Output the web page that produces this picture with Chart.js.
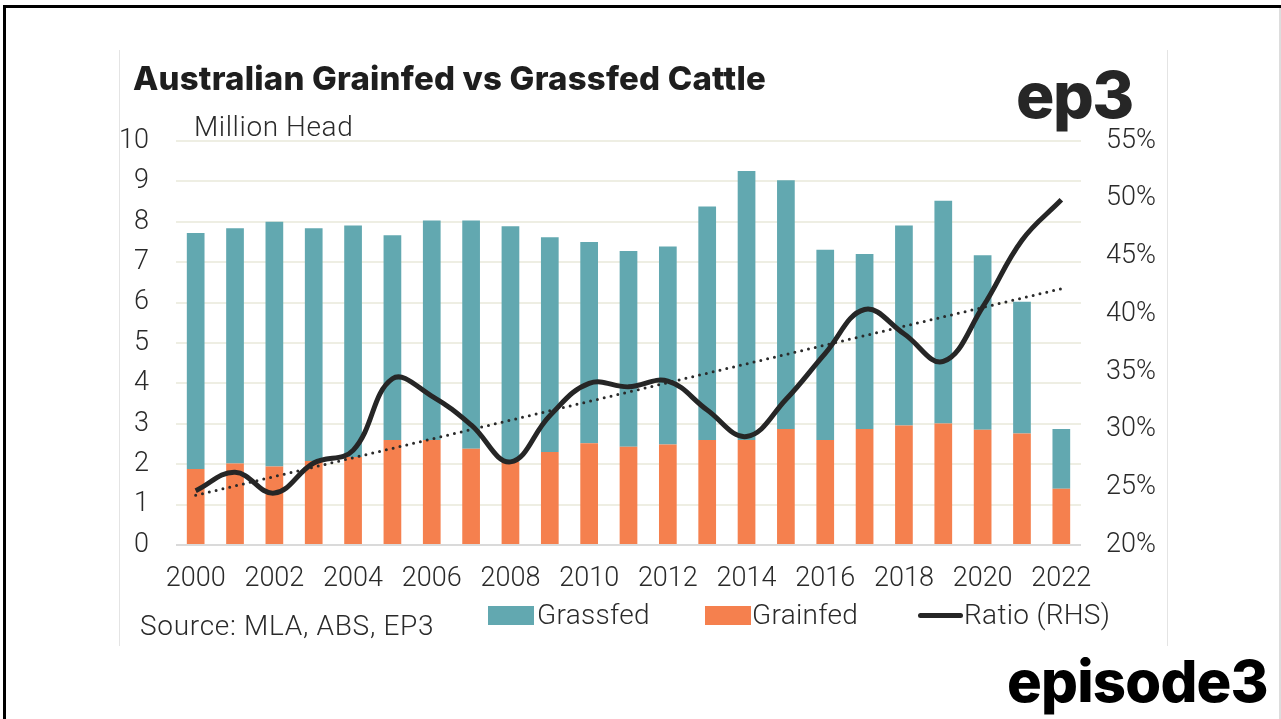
<!DOCTYPE html>
<html>
<head>
<meta charset="utf-8">
<script src="https://cdn.jsdelivr.net/npm/chart.js@4"></script>
<style>
  body { margin: 0; background: #fff; font-family: Roboto, sans-serif; }
  #wrap { position: relative; width: 1281px; height: 719px; overflow: hidden; }
  #chart { position: absolute; left: 0; top: 0; }
  .txt { position: absolute; white-space: nowrap; color: #2a2a2a; }
  .frameTop { position: absolute; left: 3px; top: 5px; width: 1278px; height: 3px; background: #000; }
  .frameLeft { position: absolute; left: 3px; top: 5px; width: 3px; height: 714px; background: #000; }
  .frameRight { position: absolute; left: 1279px; top: 8px; width: 2px; height: 711px; background: #ddd; }
  .imgEdge { position: absolute; width: 1px; background: #e4e4e4; }
  .sw { position: absolute; }
</style>
</head>
<body>
<div id="wrap">
  <canvas id="chart" width="1281" height="719"></canvas>
  <div class="frameTop"></div>
  <div class="frameLeft"></div>
  <div class="frameRight"></div>
  <div class="imgEdge" style="left:119px; top:50px; height:596px;"></div>
  <div class="imgEdge" style="left:1167px; top:50px; height:596px;"></div>

  <div class="txt" id="title" style="left:133px; top:58px; font-family: Inter, sans-serif; font-weight:800; font-size:33px; color:#1e1e1e; letter-spacing:0.2px;">Australian Grainfed vs Grassfed Cattle</div>
  <div class="txt" style="left:194px; top:110px; font-weight:300; font-size:28px; letter-spacing:0.6px;">Million Head</div>
  <div class="txt" style="left:1016px; top:56px; font-family: Inter, sans-serif; font-weight:800; font-size:64px; letter-spacing:-1.5px; color:#262626;">ep3</div>
  <div class="txt" style="left:1007px; top:646px; font-family: Inter, sans-serif; font-weight:800; font-size:58px; letter-spacing:-0.8px; color:#000;">episode3</div>

  <div class="txt" style="left:140px; top:609px; font-weight:300; font-size:28px; letter-spacing:0.7px;">Source: MLA, ABS, EP3</div>
  <div id="legend"></div>
</div>

<script>
// Data
const years = ['2000', '2001', '2002', '2003', '2004', '2005', '2006', '2007', '2008', '2009', '2010', '2011',
  '2012', '2013', '2014', '2015', '2016', '2017', '2018', '2019', '2020', '2021', '2022'];

// Million head
const grainfed = [1.88, 2.02, 1.94, 2.08, 2.18, 2.60, 2.60, 2.38, 2.06, 2.30, 2.52, 2.43,
  2.49, 2.60, 2.60, 2.87, 2.60, 2.87, 2.96, 3.01, 2.85, 2.76, 1.39];
const grassfed = [5.84, 5.82, 6.06, 5.76, 5.73, 5.07, 5.43, 5.65, 5.83, 5.32, 4.98, 4.85,
  4.90, 5.78, 6.66, 6.16, 4.71, 4.33, 4.95, 5.51, 4.32, 3.26, 1.48];

// Grainfed share, % (right hand scale)
const ratio = [24.7, 26.3, 24.5, 27.1, 28.2, 34.4, 32.9, 30.4, 27.2, 31.2, 34.0, 33.7,
  34.2, 31.7, 29.4, 32.6, 36.6, 40.4, 38.3, 35.9, 40.6, 46.4, 49.9];

// Linear trend of the ratio: only the two ends, the line joins them
const trend = [24.3, null, null, null, null, null, null, null, null, null, null, null,
  null, null, null, null, null, null, null, null, null, null, 42.2];

const leftTicks = [0, 10, 1];
const rightTicks = [20, 55, 5];

const tealColor = '#62A8B0';
const orangeColor = '#F5804E';
const lineColor = '#262626';
const tickFont = { family: 'Roboto', size: 27, weight: '300' };

const ctx = document.getElementById('chart').getContext('2d');
const chart = new Chart(ctx, {
  type: 'bar',
  data: {
    labels: years,
    datasets: [
      {
        label: 'Ratio (RHS)',
        type: 'line',
        data: ratio,
        yAxisID: 'y1',
        borderColor: lineColor,
        borderWidth: 5,
        tension: 0.4,
        pointRadius: 0,
        order: 0
      },
      {
        label: 'Trend',
        type: 'line',
        data: trend,
        yAxisID: 'y1',
        borderColor: '#2a2a2a',
        borderWidth: 3,
        borderDash: [0, 7],
        borderCapStyle: 'round',
        spanGaps: true,
        tension: 0,
        pointRadius: 0,
        order: 1
      },
      {
        label: 'Grainfed',
        data: grainfed,
        backgroundColor: orangeColor,
        yAxisID: 'y',
        order: 2
      },
      {
        label: 'Grassfed',
        data: grassfed,
        backgroundColor: tealColor,
        yAxisID: 'y',
        order: 2
      }
    ]
  },
  options: {
    responsive: false,
    animation: false,
    datasets: {
      bar: { categoryPercentage: 1, barPercentage: 0.45 }
    },
    layout: {
      padding: { left: 100, right: 110, top: 141, bottom: 114 }
    },
    plugins: {
      legend: { display: false },
      tooltip: { enabled: false }
    },
    scales: {
      x: {
        stacked: true,
        grid: { display: false },
        border: { display: false },
        ticks: {
          autoSkip: false,
          maxRotation: 0,
          color: '#2a2a2a',
          font: tickFont,
          padding: 10,
          callback: function(value, index) {
            return index % 2 === 0 ? years[index] : '';
          }
        },
        afterFit: function(scale) { scale.height = 60; }
      },
      y: {
        stacked: true,
        position: 'left',
        min: leftTicks[0],
        max: leftTicks[1],
        ticks: { stepSize: leftTicks[2], color: '#2a2a2a', font: tickFont, padding: 27 },
        grid: {
          drawTicks: false,
          lineWidth: 2,
          color: function(c) { return c.tick && c.tick.value === 0 ? '#DADADA' : '#EEEEE3'; }
        },
        border: { display: false },
        afterFit: function(scale) { scale.width = 76; }
      },
      y1: {
        position: 'right',
        min: rightTicks[0],
        max: rightTicks[1],
        ticks: {
          stepSize: rightTicks[2],
          color: '#2a2a2a',
          font: tickFont,
          padding: 25,
          callback: function(v) { return v + '%'; }
        },
        grid: { display: false, drawTicks: false },
        border: { display: false },
        afterFit: function(scale) { scale.width = 90; }
      }
    }
  }
});

// Legend row, built from the chart's datasets
const legendItems = [
  { label: 'Grassfed', color: tealColor, kind: 'box', x: 488, tx: 537 },
  { label: 'Grainfed', color: orangeColor, kind: 'box', x: 705, tx: 752 },
  { label: 'Ratio (RHS)', color: lineColor, kind: 'line', x: 918, tx: 964 }
];
const legend = document.getElementById('legend');
legendItems.forEach(function(item) {
  const sw = document.createElement('div');
  sw.className = 'sw';
  sw.style.left = item.x + 'px';
  sw.style.background = item.color;
  if (item.kind === 'box') {
    sw.style.top = '606px';
    sw.style.width = '46px';
    sw.style.height = '19px';
  } else {
    sw.style.top = '613px';
    sw.style.width = '45px';
    sw.style.height = '5px';
    sw.style.borderRadius = '3px';
  }
  legend.appendChild(sw);
  const t = document.createElement('div');
  t.className = 'txt';
  t.style.left = item.tx + 'px';
  t.style.top = '598px';
  t.style.fontWeight = '300';
  t.style.fontSize = '28px';
  t.style.letterSpacing = '0.3px';
  t.textContent = item.label;
  legend.appendChild(t);
});
</script>
</body>
</html>
